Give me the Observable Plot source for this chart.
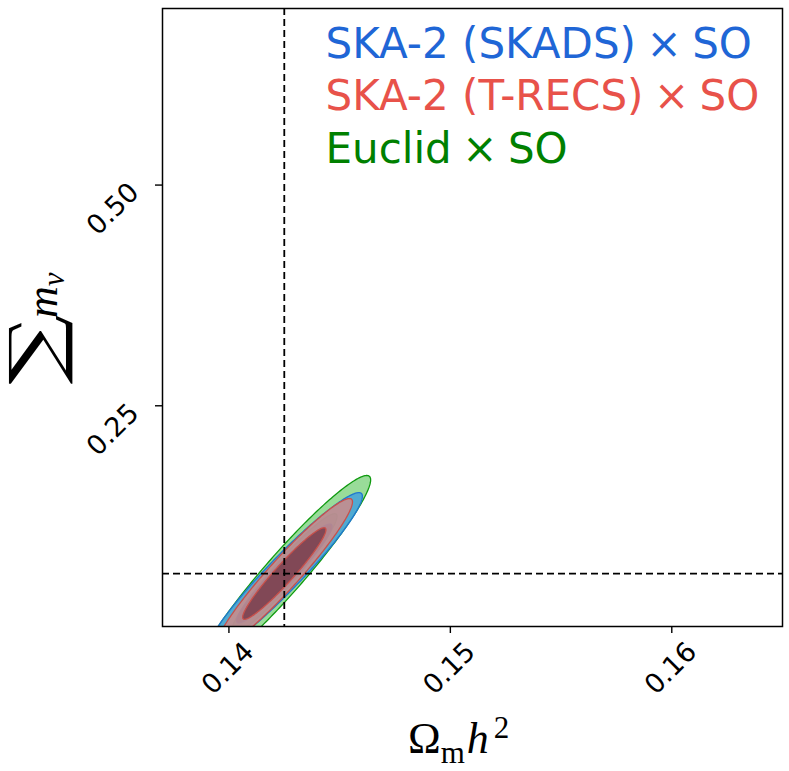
<!DOCTYPE html>
<html><head><meta charset="utf-8">
<script src="https://cdn.jsdelivr.net/npm/d3@7"></script>
<script src="https://cdn.jsdelivr.net/npm/@observablehq/plot@0.6"></script>
<style>
html,body{margin:0;padding:0;background:#fff;}
#chart{width:789px;height:771px;overflow:hidden;}
</style></head><body><div id="chart"></div>
<script>
// ---- data ----
const surveys = ["Euclid×SO", "SKA-2 (SKADS)×SO", "SKA-2 (T-RECS)×SO"]; // drawing order
const outerFill = ["#7fd37f", "#3d9ee0", "#d48a85"];
const innerFill = ["#3f9f3f", "#2a6aa8", "#743848"];
const surveyStroke = ["#109a10", "#1f78d0", "#c8504a"];
const legendLabels = ["SKA-2 (SKADS)\u2005×\u2005SO", "SKA-2 (T-RECS)\u2005×\u2005SO", "Euclid\u2005×\u2005SO"];
const legendColors = ["#1f66d6", "#e8524a", "#008000"];
const fiducialOmh2 = 0.1425;
const fiducialMnu = 0.06;
const sigmaOmh2 = [0.00157, 0.00142, 0.00124];
const sigmaMnu = [0.0447, 0.0369, 0.0342];
const correlation = [0.955, 0.955, 0.955];
const contourNames = ["2σ", "1σ"];
const contourScale = [Math.sqrt(6.17), Math.sqrt(2.30)];
const xTicks = [0.14, 0.15, 0.16];
const xTickLabels = ["0.14", "0.15", "0.16"];
const yTicks = [0.25, 0.50];
const yTickLabels = ["0.25", "0.50"];

// ---- build Fisher ellipse contours from the parameters ----
const N = 240;
const contours = [];
surveys.forEach((s, i) => {
  contourNames.forEach((c, j) => {
    const k = contourScale[j], sx = sigmaOmh2[i], sy = sigmaMnu[i], r = correlation[i];
    for (let n = 0; n < N; n++) {
      const t = 2 * Math.PI * n / N;
      contours.push({
        survey: i, level: j,
        x: fiducialOmh2 + k * sx * Math.cos(t),
        y: fiducialMnu + k * sy * (r * Math.cos(t) + Math.sqrt(1 - r * r) * Math.sin(t))
      });
    }
  });
});

const marks = [];
surveys.forEach((s, i) => {
  contourNames.forEach((c, j) => {
    marks.push(Plot.line(contours.filter(d => d.survey === i && d.level === j), {
      x: "x", y: "y", curve: "linear-closed", clip: true,
      fill: j === 0 ? outerFill[i] : innerFill[i], fillOpacity: 0.8,
      stroke: surveyStroke[i], strokeWidth: 1.3
    }));
  });
});

marks.push(Plot.ruleX([fiducialOmh2], {stroke: "black", strokeWidth: 1.8, strokeDasharray: "7,4"}));
marks.push(Plot.ruleY([fiducialMnu], {stroke: "black", strokeWidth: 1.8, strokeDasharray: "7,4"}));

marks.push(Plot.axisX({ticks: xTicks, tickSize: 7, tickFormat: () => "", label: null, strokeWidth: 1.4}));
marks.push(Plot.axisY({ticks: yTicks, tickSize: 7, tickFormat: () => "", label: null, strokeWidth: 1.4}));

marks.push(Plot.text(xTicks, {x: d => d, text: (d, i) => xTickLabels[i], frameAnchor: "bottom",
  textAnchor: "middle", lineAnchor: "middle",
  rotate: -45, dx: -1, dy: 42, fontSize: 27, fill: "black"}));
marks.push(Plot.text(yTicks, {y: d => d, text: (d, i) => yTickLabels[i], frameAnchor: "left",
  textAnchor: "middle", lineAnchor: "middle",
  rotate: -45, dx: -49.5, dy: 24, fontSize: 27, fill: "black"}));

legendLabels.forEach((l, i) => {
  marks.push(Plot.text([l], {text: d => d, frameAnchor: "top-left", textAnchor: "start", lineAnchor: "middle",
    dx: 163, dy: 36 + 52.5 * i, fontSize: 42, fill: legendColors[i]}));
});

marks.push(Plot.frame({stroke: "black", strokeWidth: 1.5}));

const svg = Plot.plot({
  width: 789, height: 771,
  marginLeft: 162, marginRight: 7, marginTop: 8, marginBottom: 145,
  x: {domain: [0.137, 0.165], label: null},
  y: {domain: [0, 0.7], label: null},
  style: {fontFamily: "DejaVu Sans", background: "white", color: "black"},
  marks
});

const sel = d3.select(svg);
// x axis label: Ω_m h^2
const xl = sel.append("text").attr("x", 408).attr("y", 753).attr("text-anchor", "start")
  .attr("font-family", "Liberation Serif").attr("fill", "black");
xl.append("tspan").attr("font-size", 44).text("Ω");
xl.append("tspan").attr("font-size", 31).attr("dy", 10).text("m");
xl.append("tspan").attr("font-size", 44).attr("font-style", "italic").attr("dy", -10).attr("dx", 2).text("h");
xl.append("tspan").attr("font-size", 31).attr("dy", -15).attr("dx", 5).text("2");

// y axis label: Σ m_ν
sel.append("text").attr("transform", "translate(35,349.5) rotate(-90) scale(1.58,1.125)")
  .attr("text-anchor", "middle").attr("dominant-baseline", "central")
  .attr("font-family", "DejaVu Serif").attr("font-size", 62).attr("fill", "black").text("∑");
const yl = sel.append("text").attr("transform", "translate(57,318) rotate(-90)").attr("text-anchor", "start")
  .attr("font-family", "Liberation Serif").attr("fill", "black");
yl.append("tspan").attr("font-size", 44).attr("font-style", "italic").text("m");
yl.append("tspan").attr("font-size", 31).attr("font-style", "italic").attr("dy", 7).text("ν");

document.getElementById("chart").appendChild(svg);
</script></body></html>
